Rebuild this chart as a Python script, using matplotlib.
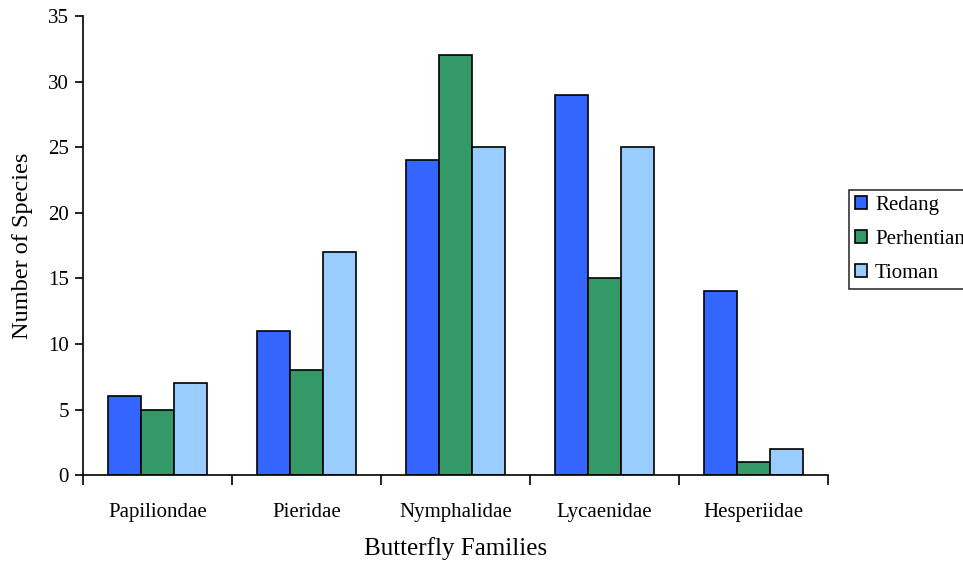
import numpy as np
import matplotlib.pyplot as plt

families = ["Papiliondae", "Pieridae", "Nymphalidae", "Lycaenidae", "Hesperiidae"]
redang = [6, 11, 24, 29, 14]
perhentian = [5, 8, 32, 15, 1]
tioman = [7, 17, 25, 25, 2]

plt.rcParams['font.family'] = ['Liberation Serif', 'DejaVu Serif']

fig = plt.figure(figsize=(9.63, 5.63), dpi=100)
ax = fig.add_axes([0.0862, 0.156, 0.7736, 0.8156])

x = np.arange(len(families))
w = 0.22
ax.bar(x - w, redang, w, color="#3366ff", edgecolor="black", linewidth=1.2, label="Redang")
ax.bar(x, perhentian, w, color="#339966", edgecolor="black", linewidth=1.2, label="Perhentiam")
ax.bar(x + w, tioman, w, color="#99ccff", edgecolor="black", linewidth=1.2, label="Tioman")

ax.set_xlim(-0.5, len(families) - 0.5)
ax.set_ylim(0, 35)
ax.set_yticks(range(0, 36, 5))
ax.set_xticks(x)
ax.set_xticklabels(families, fontsize=15)
ax.set_xticks(np.arange(-0.5, len(families), 1.0), minor=True)
ax.tick_params(axis="x", which="major", length=0, pad=20)
ax.tick_params(axis="x", which="minor", length=7, width=1.2, direction="out")
ax.tick_params(axis="y", length=6, width=1.2, direction="out", labelsize=15, pad=4)

for s in ["top", "right"]:
    ax.spines[s].set_visible(False)
for s in ["left", "bottom"]:
    ax.spines[s].set_linewidth(1.2)

ax.set_xlabel("Butterfly Families", fontsize=18, labelpad=11)
ax.set_ylabel("Number of Species", fontsize=17.5, labelpad=11)

# legend sits at the right edge, the last letters run off the figure
leg = fig.legend(loc="upper left", bbox_to_anchor=(0.882, 0.662), fontsize=15,
                 handlelength=0.55, handleheight=0.55, handletextpad=0.4,
                 frameon=True, fancybox=False, borderpad=0.28, labelspacing=0.72,
                 borderaxespad=0)
leg.get_frame().set_edgecolor("black")
leg.get_frame().set_linewidth(1.2)

fig.savefig("out.png", dpi=100)
